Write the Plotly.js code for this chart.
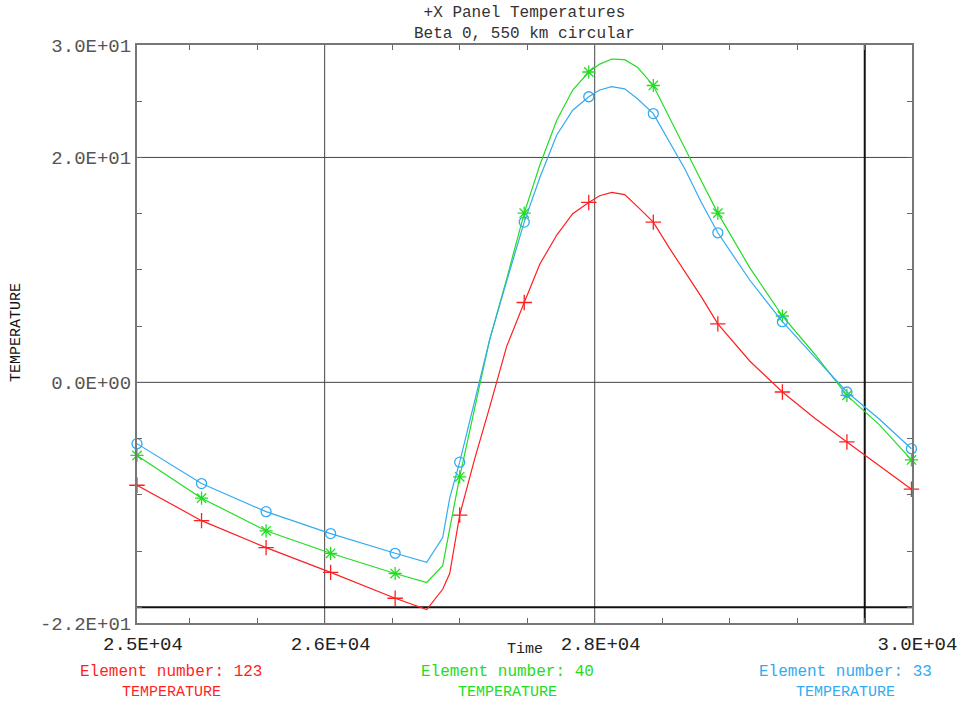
<!DOCTYPE html>
<html>
<head>
<meta charset="utf-8">
<script src="https://cdn.plot.ly/plotly-3.0.1.min.js"></script>
<style>html,body{margin:0;padding:0;background:#fff;}</style>
</head>
<body>
<div id="chart" style="width:967px;height:702px;"></div>
<script>
// ---- data ----
const time = [24610, 25088, 25566, 26044, 26522, 26756, 26874, 26926, 27000, 27111, 27222, 27348, 27478, 27593, 27719, 27837, 27956, 28037, 28126, 28222, 28319, 28434, 28550, 28667, 28790, 28912, 29148, 29390, 29630, 29868, 30111, 30346];
const elem123 = [-9.15, -12.3, -14.7, -16.9, -19.2, -20.2, -18.4, -17.0, -11.8, -6.8, -2.2, 3.2, 7.1, 10.5, 13.1, 15.0, 16.0, 16.6, 16.9, 16.7, 15.6, 14.25, 12.0, 9.9, 7.6, 5.2, 1.9, -0.86, -3.2, -5.3, -7.4, -9.5];
const elem40 = [-6.5, -10.3, -13.2, -15.2, -17.0, -17.8, -16.3, -13.0, -8.4, -2.3, 3.8, 9.2, 15.05, 19.3, 23.3, 26.0, 27.6, 28.3, 28.75, 28.7, 28.0, 26.4, 23.6, 20.9, 17.9, 15.05, 10.2, 5.9, 2.5, -1.16, -3.8, -6.9];
const elem33 = [-5.45, -9.0, -11.5, -13.45, -15.2, -16.0, -13.8, -10.3, -7.1, -1.6, 3.8, 9.0, 14.25, 18.2, 22.0, 24.2, 25.4, 26.0, 26.3, 26.1, 25.2, 23.9, 21.4, 19.0, 16.0, 13.3, 9.1, 5.4, 2.25, -0.86, -3.3, -5.9];
const markerIdx = [0, 1, 2, 3, 4, 8, 12, 16, 21, 25, 27, 29, 31];
const seriesLabels = ["Element number: 123", "Element number: 40", "Element number: 33"];
const seriesSub = ["TEMPERATURE", "TEMPERATURE", "TEMPERATURE"];
const titleLines = ["+X Panel Temperatures", "Beta 0, 550 km circular"];

const xRange = [24610, 30350];
const yRange = [-21.4, 30];
const xTickVals = [24610, 25000, 25500, 26000, 26500, 27000, 27500, 28000, 28500, 29000, 29500, 30000, 30346];
const xTickText = ["2.5E+04", "", "", "2.6E+04", "", "", "", "2.8E+04", "", "", "", "", "3.0E+04"];
const yTickVals = [-21.4, -20, -15, -10, -5, 0, 5, 10, 15, 20, 25, 30];
const yTickText = ["-2.2E+01", "", "", "", "", "0.0E+00", "", "", "", "2.0E+01", "", "3.0E+01"];
const gridX = [26000, 28000];
const gridY = [20, 0];
const boldX = [30000];
const boldY = [-20];

// ---- styling ----
const FONT = "Liberation Mono, DejaVu Sans Mono, monospace";
const colors = ["#ff1f1f", "#22dd22", "#33aaf2"];
const symbols = ["cross-thin-open", "asterisk-open", "circle-open"];
const sizes = [11, 11, 10];
const seriesVals = [elem123, elem40, elem33];

const traces = [];
seriesVals.forEach((vals, s) => {
  traces.push({
    x: time, y: vals, mode: "lines", type: "scatter",
    line: {color: colors[s], width: 1.2}, hoverinfo: "skip", showlegend: false
  });
  traces.push({
    x: markerIdx.map(i => time[i]), y: markerIdx.map(i => vals[i]),
    mode: "markers", type: "scatter", cliponaxis: false, showlegend: false,
    marker: {symbol: symbols[s], size: sizes[s], color: colors[s], line: {color: colors[s], width: 1.3}}
  });
});

const shapes = [];
gridX.forEach(v => shapes.push({type: "line", xref: "x", yref: "paper", x0: v, x1: v, y0: 0, y1: 1, line: {color: "#444", width: 1}, layer: "below"}));
gridY.forEach(v => shapes.push({type: "line", xref: "paper", yref: "y", x0: 0, x1: 1, y0: v, y1: v, line: {color: "#444", width: 1}, layer: "below"}));
boldX.forEach(v => shapes.push({type: "line", xref: "x", yref: "paper", x0: v, x1: v, y0: 0, y1: 1, line: {color: "#111", width: 2}, layer: "below"}));
boldY.forEach(v => shapes.push({type: "line", xref: "paper", yref: "y", x0: 0, x1: 1, y0: v, y1: v, line: {color: "#111", width: 2}, layer: "below"}));

const legX = [0.0439, 0.4787, 0.9148];
const annotations = [
  {text: titleLines.join("<br>"), xref: "paper", yref: "paper", x: 0.5, y: 1.0375, showarrow: false, xanchor: "center", yanchor: "middle", align: "center", font: {family: FONT, size: 16, color: "#333"}},
  {text: "Time", xref: "paper", yref: "paper", x: 0.5, y: -0.0450, showarrow: false, xanchor: "center", yanchor: "middle", font: {family: FONT, size: 15, color: "#222"}},
  {text: "TEMPERATURE", xref: "paper", yref: "paper", x: -0.156, y: 0.5017, showarrow: false, textangle: -90, xanchor: "center", yanchor: "middle", font: {family: FONT, size: 15, color: "#111"}}
];
seriesLabels.forEach((t, s) => {
  annotations.push({text: t, xref: "paper", yref: "paper", x: legX[s], y: -0.0848, showarrow: false, xanchor: "center", yanchor: "middle", font: {family: FONT, size: 16, color: colors[s]}});
  annotations.push({text: seriesSub[s], xref: "paper", yref: "paper", x: legX[s], y: -0.1211, showarrow: false, xanchor: "center", yanchor: "middle", font: {family: FONT, size: 15, color: colors[s]}});
});

const layout = {
  width: 967, height: 702,
  margin: {l: 137, r: 55, t: 45, b: 79, pad: 0},
  paper_bgcolor: "#fff", plot_bgcolor: "#fff",
  showlegend: false,
  xaxis: {
    range: xRange, tickmode: "array", tickvals: xTickVals, ticktext: xTickText,
    ticks: "inside", ticklen: 5, tickcolor: "#666", tickwidth: 1,
    showgrid: false, zeroline: false, showline: true, linecolor: "#777", linewidth: 2, mirror: "ticks",
    tickfont: {family: FONT, size: 19, color: "#222"}, ticklabelshift: 6, ticklabelstandoff: 2
  },
  yaxis: {
    range: yRange, tickmode: "array", tickvals: yTickVals, ticktext: yTickText,
    ticks: "inside", ticklen: 5, tickcolor: "#666", tickwidth: 1,
    showgrid: false, zeroline: false, showline: true, linecolor: "#777", linewidth: 2, mirror: "ticks",
    tickfont: {family: FONT, size: 19, color: "#555"}, ticklabelstandoff: 0
  },
  shapes: shapes,
  annotations: annotations
};

Plotly.newPlot("chart", traces, layout, {displayModeBar: false, staticPlot: true});
</script>
</body>
</html>
